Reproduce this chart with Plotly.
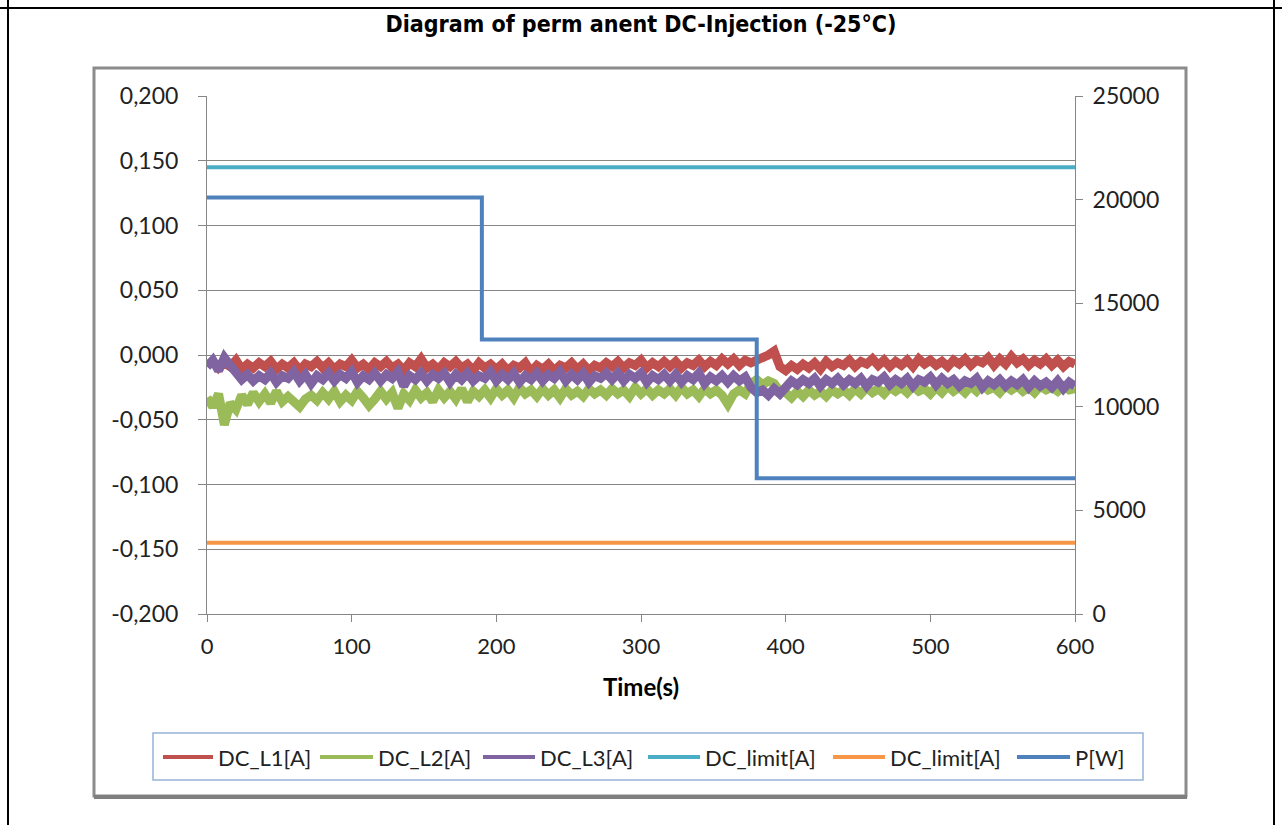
import plotly.graph_objects as go

# ---------------- data ----------------
time_s = [t for t in range(0, 601, 4)]

# DC currents in mA (4 s sampling)
dc_l1_mA = [
    -8, -5, -10, -6, -9, -4, -11, -7, -10, -6,
    -9, -5, -11, -7, -10, -6, -12, -7, -9, -5,
    -10, -6, -11, -7, -9, -4, -10, -7, -11, -6,
    -9, -5, -10, -7, -12, -6, -9, -3, -10, -7,
    -11, -6, -9, -5, -10, -7, -12, -6, -10, -7,
    -11, -7, -12, -8, -10, -6, -13, -8, -11, -7,
    -12, -8, -10, -6, -11, -7, -12, -8, -10, -6,
    -9, -5, -10, -6, -8, -4, -10, -6, -9, -5,
    -9, -5, -10, -6, -8, -4, -9, -5, -8, -3,
    -7, -3, -8, -4, -6, -3, -2, 0, 3, -9,
    -12, -8, -11, -7, -10, -6, -11, -5, -9, -6,
    -8, -4, -9, -5, -7, -3, -8, -4, -9, -5,
    -8, -4, -9, -3, -7, -4, -8, -5, -9, -4,
    -7, -3, -8, -4, -6, -2, -8, -3, -7, -1,
    -6, -3, -8, -4, -7, -3, -8, -4, -9, -5,
    -7,
]
dc_l2_mA = [
    -33, -40, -30, -54, -37, -42, -31, -38, -29, -36,
    -30, -37, -28, -36, -32, -35, -40, -34, -31, -35,
    -29, -34, -28, -36, -31, -35, -28, -33, -39, -34,
    -28, -34, -29, -41, -30, -35, -27, -33, -29, -36,
    -27, -33, -28, -34, -26, -36, -28, -32, -27, -33,
    -26, -31, -27, -33, -25, -30, -27, -32, -26, -31,
    -27, -33, -26, -31, -28, -32, -26, -30, -27, -31,
    -26, -30, -27, -32, -25, -30, -26, -31, -27, -30,
    -26, -31, -25, -30, -27, -32, -26, -30, -27, -31,
    -38, -30, -27, -30, -22, -19, -23, -20, -22, -28,
    -29, -33, -28, -32, -27, -31, -28, -32, -27, -30,
    -27, -31, -26, -30, -25, -29, -26, -30, -25, -28,
    -25, -29, -24, -28, -26, -30, -25, -29, -24, -28,
    -25, -29, -24, -28, -23, -27, -25, -29, -24, -27,
    -24, -28, -25, -29, -24, -27, -25, -28, -24, -27,
    -26,
]
dc_l3_mA = [
    -9, -4, -12, -2, -8, -14, -19, -15, -20, -16,
    -19, -14, -21, -16, -18, -13, -20, -15, -22, -16,
    -19, -14, -20, -15, -18, -13, -21, -16, -19, -14,
    -20, -15, -18, -13, -24, -16, -19, -14, -20, -15,
    -18, -14, -21, -15, -19, -14, -20, -16, -18, -13,
    -20, -15, -19, -14, -21, -16, -19, -14, -20, -15,
    -18, -13, -20, -15, -19, -14, -21, -16, -18, -14,
    -19, -14, -20, -15, -18, -14, -21, -16, -19, -15,
    -20, -15, -21, -16, -19, -14, -22, -17, -20, -16,
    -21, -16, -20, -17, -25, -29, -27, -31, -26, -30,
    -24, -20, -23, -19, -22, -18, -24, -19, -22, -18,
    -23, -19, -22, -18, -24, -19, -21, -17, -23, -19,
    -22, -18, -24, -19, -21, -17, -23, -18, -22, -19,
    -24, -20, -22, -18, -25, -20, -23, -19, -24, -20,
    -23, -19, -25, -20, -24, -21, -25, -20, -26, -21,
    -24,
]

limit_time = [0, 600]
limit_upper_A = [0.145, 0.145]
limit_lower_A = [-0.145, -0.145]

power_time = [0, 190, 190, 380, 380, 600]
power_W = [20100, 20100, 13250, 13250, 6550, 6550]

y_ticks = [-0.2, -0.15, -0.1, -0.05, 0.0, 0.05, 0.1, 0.15, 0.2]
y_ticklabels = ["-0,200", "-0,150", "-0,100", "-0,050", "0,000", "0,050", "0,100", "0,150", "0,200"]
y2_ticks = [0, 5000, 10000, 15000, 20000, 25000]
y2_ticklabels = ["0", "5000", "10000", "15000", "20000", "25000"]
x_ticks = [0, 100, 200, 300, 400, 500, 600]

legend_names = ["DC_L1[A]", "DC_L2[A]", "DC_L3[A]", "DC_limit[A]", "DC_limit[A]", "P[W]"]
colors = ["#C0504D", "#9BBB59", "#8064A2", "#4BACC6", "#F79646", "#4F81BD"]

# ---------------- figure ----------------
W, H = 1282, 825
L, R, T, B = 207, 1075, 96, 614
pw, ph = R - L, B - T


def px(x):
    return (x - L) / pw


def py(y):
    return (B - y) / ph


FONT = "Lato"

fig = go.Figure()

for name, vals, col in zip(legend_names[:3], [dc_l1_mA, dc_l2_mA, dc_l3_mA], colors[:3]):
    fig.add_trace(go.Scatter(
        x=time_s, y=[v / 1000 for v in vals], name=name, mode="lines",
        line=dict(color=col, width=9), yaxis="y"))

fig.add_trace(go.Scatter(x=limit_time, y=limit_upper_A, name=legend_names[3], mode="lines",
                         line=dict(color=colors[3], width=4), yaxis="y"))
fig.add_trace(go.Scatter(x=limit_time, y=limit_lower_A, name=legend_names[4], mode="lines",
                         line=dict(color=colors[4], width=4), yaxis="y"))
fig.add_trace(go.Scatter(x=power_time, y=power_W, name=legend_names[5], mode="lines",
                         line=dict(color=colors[5], width=4), yaxis="y2"))

axis_col = "#868686"

shapes = [
    # outer black frame
    dict(type="line", xref="paper", yref="paper", x0=px(0), x1=px(W), y0=py(8), y1=py(8),
         line=dict(color="black", width=2)),
    dict(type="line", xref="paper", yref="paper", x0=px(8), x1=px(8), y0=py(0), y1=py(H),
         line=dict(color="black", width=2)),
    dict(type="line", xref="paper", yref="paper", x0=px(1274), x1=px(1274), y0=py(0), y1=py(H),
         line=dict(color="black", width=2)),
    # chart area box
    dict(type="rect", xref="paper", yref="paper", x0=px(94), x1=px(1186), y0=py(68), y1=py(796),
         line=dict(color="#8c8c8c", width=3), layer="below"),
    dict(type="line", xref="paper", yref="paper", x0=px(94), x1=px(1187), y0=py(797), y1=py(797),
         line=dict(color="#7f7f7f", width=4)),
    # legend box
    dict(type="rect", xref="paper", yref="paper", x0=px(153), x1=px(1143), y0=py(733), y1=py(780),
         line=dict(color="#95B3D7", width=1.5), fillcolor="white"),
]

annotations = []
# manual legend (line sample + label) laid out like the original
legend_line_x = [(163, 213), (320, 373), (483, 535), (648, 700), (833, 885), (1017, 1070)]
legend_y = 757
for (x0, x1), name, col in zip(legend_line_x, legend_names, colors):
    shapes.append(dict(type="line", xref="paper", yref="paper", x0=px(x0), x1=px(x1),
                       y0=py(legend_y), y1=py(legend_y), line=dict(color=col, width=4)))
    annotations.append(dict(text=name, xref="paper", yref="paper", x=px(x1 + 3), y=py(legend_y),
                            xanchor="left", yanchor="middle", showarrow=False,
                            font=dict(family=FONT, size=22, color="#222222")))

fig.update_layout(
    width=W, height=H,
    margin=dict(l=L, r=W - R, t=T, b=H - B, pad=0),
    paper_bgcolor="white", plot_bgcolor="white",
    font=dict(family=FONT, size=23, color="#222222"),
    title=dict(text="<b>Diagram of perm anent DC-Injection (-25°C)</b>",
               x=px(641), xref="paper", xanchor="center",
               y=1 - 24 / H, yref="container", yanchor="middle",
               font=dict(family="DejaVu Sans Condensed", size=23, color="black")),
    xaxis=dict(range=[0, 600], tickvals=x_ticks, showgrid=False, zeroline=False,
               showline=True, linecolor=axis_col, linewidth=1,
               ticks="outside", ticklen=7, tickcolor=axis_col,
               ticklabelstandoff=6, tickfont=dict(size=22),
               title=dict(text="<b>Time(s)</b>", standoff=20,
                          font=dict(family=FONT, size=24, color="black"))),
    yaxis=dict(range=[-0.2, 0.2], tickvals=y_ticks, ticktext=y_ticklabels,
               showgrid=True, gridcolor=axis_col, gridwidth=1, zeroline=False,
               showline=True, linecolor=axis_col, linewidth=1, mirror=False,
               ticks="outside", ticklen=8, tickcolor=axis_col,
               ticklabelstandoff=15),
    yaxis2=dict(range=[0, 25000], tickvals=y2_ticks, ticktext=y2_ticklabels,
                overlaying="y", side="right", showgrid=False, zeroline=False,
                showline=True, linecolor=axis_col, linewidth=1,
                ticks="outside", ticklen=7, tickcolor=axis_col,
                ticklabelstandoff=5),
    shapes=shapes,
    annotations=annotations,
    showlegend=False,
)

fig.write_html("out.html")
